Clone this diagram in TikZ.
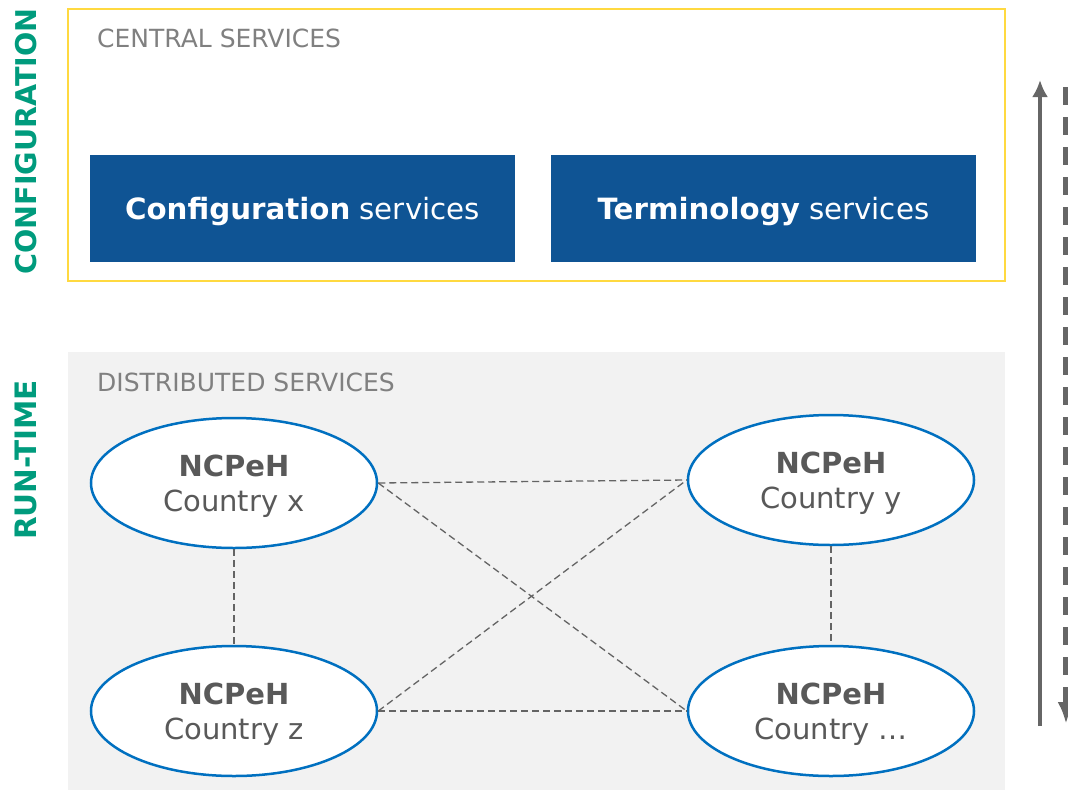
\documentclass[tikz,border=0pt]{standalone}
\usepackage{fontspec}
\setmainfont{DejaVu Sans}
\usetikzlibrary{shapes.geometric}
\usetikzlibrary{arrows.meta}
\definecolor{eublue}{RGB}{15,84,148}
\definecolor{ringblue}{RGB}{0,112,192}
\definecolor{lblgreen}{RGB}{0,155,125}
\definecolor{paneyellow}{RGB}{255,217,64}
\definecolor{panegrey}{RGB}{242,242,242}
\definecolor{txtgrey}{RGB}{128,128,128}
\definecolor{darkgrey}{RGB}{89,89,89}
\definecolor{linkgrey}{RGB}{100,100,100}
\definecolor{arrgrey}{RGB}{102,102,102}
\tikzstyle{svcbox}=[rectangle, fill=eublue, text=white, minimum width=425pt, minimum height=107pt, inner sep=0pt, text depth=0pt, font=\fontsize{29.3}{35}\selectfont]
\tikzstyle{ncp}=[ellipse, draw=ringblue, line width=2.5pt, fill=white, minimum width=286pt, minimum height=130pt, inner sep=0pt, text depth=0pt, align=center, text=darkgrey, font=\fontsize{29}{35}\selectfont]
\tikzstyle{link}=[draw=linkgrey, line width=1.3pt, dash pattern=on 7pt off 4pt]
\tikzstyle{panelbl}=[anchor=base west, inner sep=0pt, text=txtgrey, font=\fontsize{25}{28}\selectfont]
\tikzstyle{sidelbl}=[rotate=90, inner sep=0pt, text=lblgreen, font=\bfseries\fontsize{29.5}{32}\selectfont]

\begin{document}
\begin{tikzpicture}[x=1pt,y=-1pt]
		\useasboundingbox (0,0) rectangle (1068,790);
		\coordinate (solidlo) at (1040,726);
		\coordinate (solidhi) at (1040,80);
		\coordinate (dashhi) at (1066,87);
		\coordinate (dashlo) at (1066,724);
		\filldraw[fill=white, draw=paneyellow, line width=1.2pt] (68,9) rectangle (1005,281);
		\fill[panegrey] (68,352) rectangle (1005,790);
		\node[panelbl] (central) at (97,47) {CENTRAL SERVICES};
		\node[panelbl] (distr) at (97,391) {DISTRIBUTED SERVICES};
		\node[svcbox] (conf) at (302.5,208.5) {\textbf{Configuration} services};
		\node[svcbox] (term) at (763.5,208.5) {\textbf{Terminology} services};
		\node[sidelbl, font=\bfseries\fontsize{28.6}{32}\selectfont] (cfglbl) at (26,141.5) {CONFIGURATION};
		\node[sidelbl] (rtlbl) at (26,460) {RUN-TIME};
		\node[ncp] (cx) at (234,483) {\textbf{NCPeH}\\ Country x};
		\node[ncp] (cy) at (831,480) {\textbf{NCPeH}\\ Country y};
		\node[ncp] (cz) at (234,711) {\textbf{NCPeH}\\ Country z};
		\node[ncp] (cn) at (831,711) {\textbf{NCPeH}\\ Country …};
		\draw[link] (cx.east) -- (cy.west);
		\draw[link] (cz.east) -- (cn.west);
		\draw[link] (cx.east) -- (cn.west);
		\draw[link] (cz.east) -- (cy.west);
		\draw[link] (cx.south) -- (cz.north);
		\draw[link] (cy.south) -- (cn.north);
		\draw[arrgrey, line width=4pt, -{Latex[length=17pt,width=16pt]}] (solidlo) -- (solidhi);
		\draw[arrgrey, line width=5.5pt, dash pattern=on 18pt off 12pt, -{Latex[length=22pt,width=17pt]}] (dashhi) -- (dashlo);
		\end{tikzpicture}
\end{document}
